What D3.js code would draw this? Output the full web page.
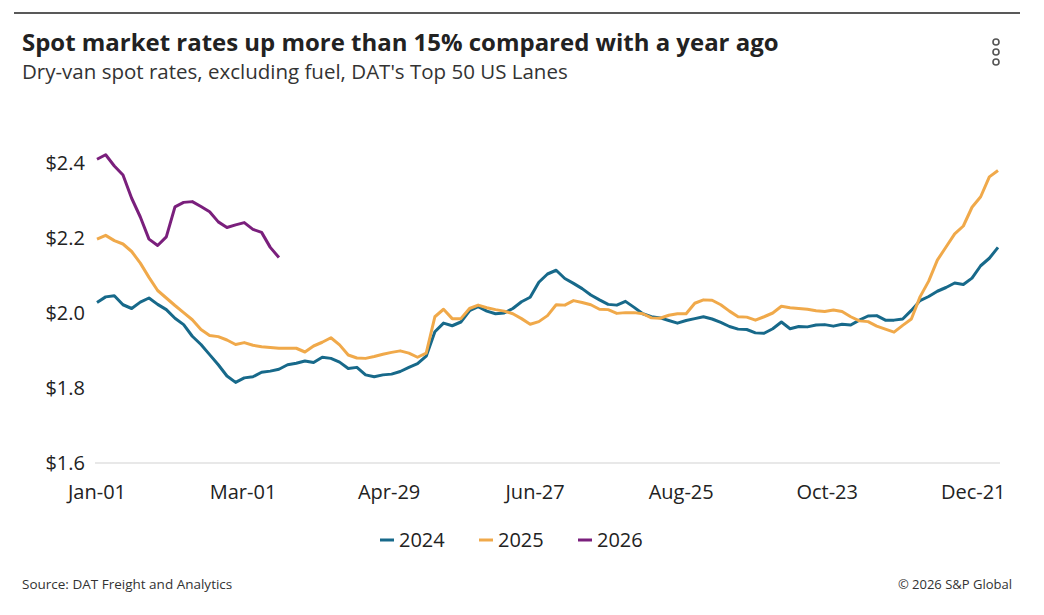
<!DOCTYPE html>
<html lang="en">
<head>
<meta charset="UTF-8">
<script src="https://d3js.org/d3.v7.min.js"></script>
<style>
  body { margin: 0; background: #fff; }
  text { font-family: "Open Sans", "Noto Sans", sans-serif; }
</style>
</head>
<body>
<svg width="1044" height="615"></svg>
<script>
// data: twice-weekly readings, Jan-01 to Dec-31
var seriesNames = ["2024", "2025", "2026"];
var seriesColors = ["#17698A", "#F0A94A", "#7A1F7C"];

var rates2024 = [2.028, 2.043, 2.046, 2.022, 2.012, 2.029, 2.040, 2.023, 2.009, 1.986,
  1.969, 1.938, 1.916, 1.889, 1.862, 1.832, 1.815, 1.827, 1.830, 1.842,
  1.845, 1.850, 1.862, 1.866, 1.872, 1.868, 1.882, 1.879, 1.869, 1.852,
  1.855, 1.835, 1.830, 1.835, 1.837, 1.844, 1.855, 1.865, 1.885, 1.950,
  1.973, 1.966, 1.976, 2.006, 2.017, 2.005, 1.998, 2.000, 2.012, 2.030,
  2.042, 2.082, 2.104, 2.114, 2.092, 2.079, 2.065, 2.048, 2.035, 2.023,
  2.021, 2.031, 2.015, 1.998, 1.990, 1.987, 1.980, 1.973, 1.980, 1.985,
  1.990, 1.984, 1.975, 1.964, 1.957, 1.956, 1.947, 1.946, 1.958, 1.976,
  1.958, 1.964, 1.963, 1.968, 1.969, 1.965, 1.970, 1.968, 1.981, 1.992,
  1.993, 1.981, 1.981, 1.984, 2.007, 2.033, 2.044, 2.058, 2.068, 2.080,
  2.076, 2.093, 2.126, 2.146, 2.175];

var rates2025 = [2.197, 2.207, 2.193, 2.184, 2.164, 2.133, 2.095, 2.060, 2.040, 2.020,
  2.001, 1.982, 1.956, 1.940, 1.937, 1.928, 1.916, 1.921, 1.914, 1.910,
  1.908, 1.906, 1.906, 1.906, 1.896, 1.912, 1.922, 1.934, 1.915, 1.888,
  1.880, 1.879, 1.884, 1.890, 1.895, 1.899, 1.893, 1.882, 1.893, 1.990,
  2.010, 1.985, 1.985, 2.012, 2.021, 2.014, 2.009, 2.005, 1.998, 1.985,
  1.970, 1.977, 1.993, 2.022, 2.021, 2.033, 2.028, 2.022, 2.010, 2.009,
  1.999, 2.001, 2.001, 1.998, 1.987, 1.986, 1.994, 1.998, 1.998, 2.026,
  2.035, 2.034, 2.022, 2.005, 1.990, 1.989, 1.981, 1.990, 2.000, 2.018,
  2.014, 2.012, 2.010, 2.006, 2.004, 2.008, 2.004, 1.990, 1.979, 1.977,
  1.965, 1.957, 1.949, 1.967, 1.984, 2.043, 2.085, 2.141, 2.176, 2.211,
  2.232, 2.282, 2.310, 2.363, 2.380];

var rates2026 = [2.410, 2.422, 2.392, 2.368, 2.306, 2.256, 2.197, 2.180, 2.203, 2.283,
  2.295, 2.297, 2.284, 2.270, 2.243, 2.228, 2.235, 2.241, 2.223, 2.215,
  2.175, 2.148];

var yTicks = [1.6, 1.8, 2.0, 2.2, 2.4];
var tickDays = [0, 59, 118, 177, 236, 295, 354];   // Jan-01, Mar-01, Apr-29, ...

var titleText = "Spot market rates up more than 15% compared with a year ago";
var subtitleText = "Dry-van spot rates, excluding fuel, DAT's Top 50 US Lanes";
var sourceText = "Source: DAT Freight and Analytics";
var creditText = "\u00A9 2026 S&P Global";

var svg = d3.select("svg");
var start = new Date(2025, 0, 1);
var stepDays = 3.5;
function dateAt(i) { return new Date(start.getTime() + i * stepDays * 864e5); }

var x = d3.scaleTime().domain([start, new Date(2025, 11, 31)]).range([97, 998]);
var y = d3.scaleLinear().domain([1.6, 2.4]).range([463, 163]);

// header
svg.append("line").attr("x1", 14).attr("x2", 1020).attr("y1", 13).attr("y2", 13)
  .attr("stroke", "#222").attr("stroke-width", 1.5);

function fitText(sel, w) {
  var len = sel.node().getComputedTextLength();
  var fs = parseFloat(sel.attr("font-size"));
  sel.attr("font-size", fs * w / len);
}

var title = svg.append("text").attr("x", 22).attr("y", 51)
  .attr("font-size", 21).attr("font-weight", 700).attr("fill", "#222").text(titleText);
fitText(title, 757);
var sub = svg.append("text").attr("x", 22).attr("y", 79)
  .attr("font-size", 17).attr("fill", "#333").text(subtitleText);
fitText(sub, 546);

// menu dots
svg.selectAll(".dot").data([42, 52, 62]).enter().append("circle")
  .attr("cx", 996).attr("cy", function(d) { return d; }).attr("r", 3)
  .attr("fill", "none").attr("stroke", "#555").attr("stroke-width", 1.6);

// axis baseline
svg.append("line").attr("x1", 95).attr("x2", 1000).attr("y1", y(1.6)).attr("y2", y(1.6))
  .attr("stroke", "#e0e0e0").attr("stroke-width", 1.5);

// y labels
svg.selectAll(".ylab").data(yTicks).enter().append("text")
  .attr("x", 85).attr("y", function(d) { return y(d); }).attr("dy", "0.35em")
  .attr("text-anchor", "end").attr("font-size", 20).attr("fill", "#222")
  .text(function(d) { return "$" + d3.format(".1f")(d); });

// x labels
var fmt = d3.timeFormat("%b-%d");
svg.selectAll(".xlab").data(tickDays).enter().append("text")
  .attr("x", function(d) { return x(d3.timeDay.offset(start, d)); })
  .attr("y", 499).attr("text-anchor", "middle").attr("font-size", 20).attr("fill", "#222")
  .text(function(d) { return fmt(d3.timeDay.offset(start, d)); });

// lines
var line = d3.line()
  .x(function(d, i) { return x(dateAt(i)); })
  .y(function(d) { return y(d); });

[rates2024, rates2025, rates2026].forEach(function(s, k) {
  svg.append("path").datum(s).attr("d", line)
    .attr("fill", "none").attr("stroke", seriesColors[k]).attr("stroke-width", 3)
    .attr("stroke-linejoin", "round");
});

// legend
var legend = svg.append("g");
var lx = 380;
seriesNames.forEach(function(n, k) {
  var g = legend.append("g").attr("transform", "translate(" + (lx + k * 99) + ",540)");
  g.append("line").attr("x1", 0).attr("x2", 14).attr("y1", 0).attr("y2", 0)
    .attr("stroke", seriesColors[k]).attr("stroke-width", 3);
  g.append("text").attr("x", 19).attr("dy", "0.35em").attr("font-size", 20)
    .attr("fill", "#222").text(n);
});

// footer
svg.append("text").attr("x", 22).attr("y", 589).attr("font-size", 13.5).attr("fill", "#333").text(sourceText);
svg.append("text").attr("x", 1012).attr("y", 589).attr("text-anchor", "end")
  .attr("font-size", 13).attr("fill", "#333").text(creditText);
</script>
</body>
</html>
